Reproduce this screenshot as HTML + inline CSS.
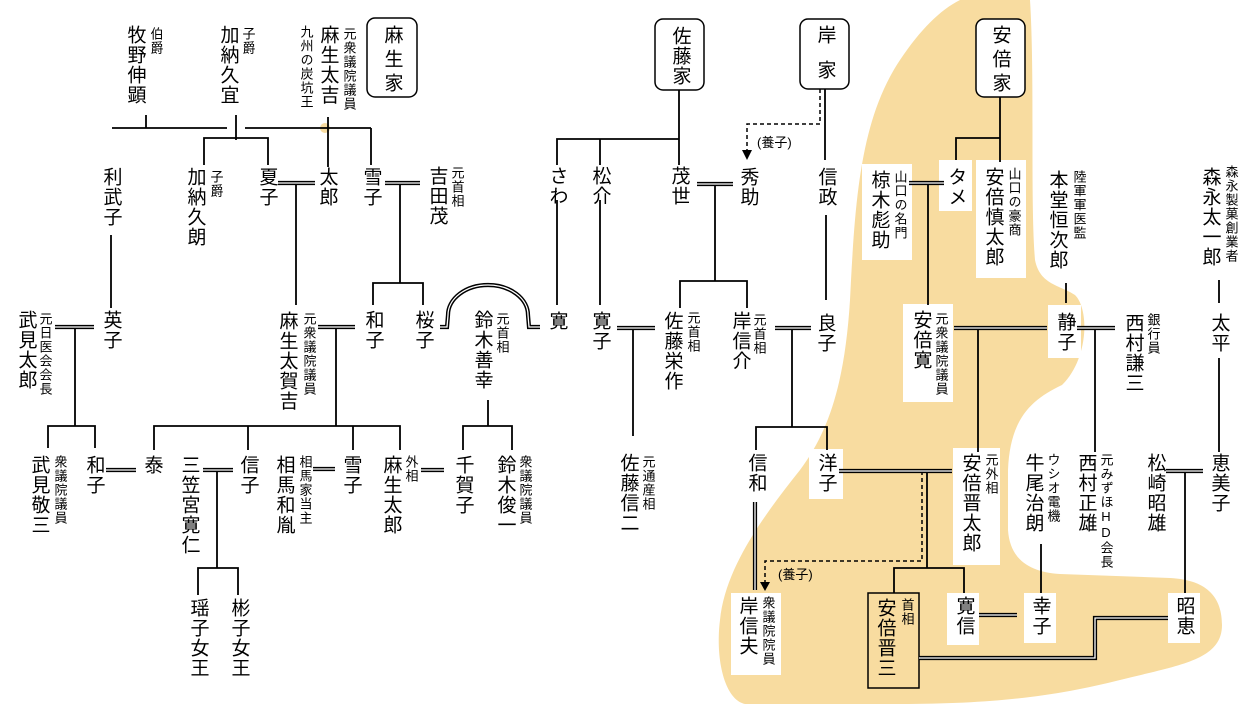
<!DOCTYPE html>
<html><head><meta charset="utf-8">
<style>
body{margin:0;background:#fff;}
#w{position:relative;width:1246px;height:704px;overflow:hidden;background:#fff;font-family:"Liberation Sans","Noto Sans CJK JP",sans-serif;color:#000;}
svg{position:absolute;left:0;top:0;}
.n,.s{position:absolute;writing-mode:vertical-rl;text-orientation:upright;white-space:nowrap;line-height:1;}
.n{font-size:19px;letter-spacing:1px;width:19px;margin-left:-9.5px;}
.s{font-size:13px;letter-spacing:1px;width:13px;margin-left:-6.5px;}
.h{position:absolute;font-size:13px;white-space:nowrap;line-height:1;}
.l{stroke:#000;stroke-width:1.8;fill:none;}
.db{stroke:#000;stroke-width:4.2;fill:none;}
.dw{stroke:#fff;stroke-width:1.3;fill:none;}
.ds{stroke:#000;stroke-width:1.5;fill:none;stroke-dasharray:4 3;}
</style></head><body><div id="w">
<svg width="1246" height="704" viewBox="0 0 1246 704">
<path fill="#f8dca0" d="M960,0 L1030,0 C1035,80 1030,200 1035,260 C1040,285 1060,285 1075,295 C1090,310 1088,360 1062,385 C1030,400 1010,420 1008,470 L1008,530 C1010,560 1030,572 1060,574 L1170,578 C1210,580 1222,600 1222,625 C1222,660 1180,665 1120,680 C1060,695 1000,704 900,704 L745,704 C725,700 715,660 720,620 C725,570 760,520 800,470 C830,430 845,380 850,300 C855,200 860,120 900,60 C920,30 940,10 960,0 Z"/>
<circle cx="325" cy="128" r="5" fill="#f8dca0"/>
<g fill="#fff">
<rect x="862" y="164" width="50" height="96"/>
<rect x="939" y="160" width="33" height="51"/>
<rect x="976" y="160" width="50" height="118"/>
<rect x="903" y="304" width="50" height="98"/>
<rect x="1048" y="305" width="33" height="53"/>
<rect x="809" y="449" width="34" height="50"/>
<rect x="953" y="448" width="47" height="117"/>
<rect x="731" y="593" width="50" height="82"/>
<rect x="947" y="593" width="32" height="52"/>
<rect x="1024" y="593" width="32" height="50"/>
<rect x="1168" y="593" width="32" height="50"/>
</g>
<g fill="#fff" stroke="#000" stroke-width="1.5">
<rect x="367" y="18" width="50" height="79" rx="8"/>
<rect x="655" y="19" width="49" height="71" rx="8"/>
<rect x="800" y="19" width="49" height="70" rx="8"/>
<rect x="976" y="19" width="49" height="78" rx="8"/>
<rect x="868" y="593" width="51" height="95" fill="none"/>
</g>
<g class="l">
<path d="M112,128H227M245,128H371"/>
<path d="M146,115V128M236,115V140M204,165V138H268V165M328,117V167M371,128V165"/>
<path d="M111,235V308"/>
<path d="M296,183V305"/>
<path d="M400,183V283M373,305V283H423V305"/>
<path d="M679,90V139M557,165V139H679V165M600,139V165"/>
<path d="M715,184V281M680,308V281H747V308"/>
<path d="M825,89V160M826,215V300"/>
<path d="M557,200V305M600,200V305"/>
<path d="M1000,97V162M956,160V138H1000"/>
<path d="M928,183V305"/>
<path d="M1066,283V303"/>
<path d="M1219,280V303M1219,358V452"/>
<path d="M75,327V426M48,448V426H95V448"/>
<path d="M336,327V426M154,450V426H400V450M248,426V450M353,426V450"/>
<path d="M217,470V568M198,595V568H238V595"/>
<path d="M488,400V426M463,450V426H512V450"/>
<path d="M633,328V436"/>
<path d="M792,328V427M756,450V427H827V450"/>
<path d="M978,328V452"/>
<path d="M1095,328V452"/>
<path d="M927,471V568M894,593V568H964V593"/>
<path d="M1041,544V593"/>
<path d="M1185,471V593"/>
</g>
<g class="ds">
<path d="M820,89V124H747V152"/>
<path d="M922,471V561H765V582"/>
</g>
<path d="M742,150L752,150L747,160Z"/>
<path d="M760,582L770,582L765,591Z"/>
<g>
<path class="db" d="M278,183H315M385,183H420M697,184H733M909,183H944M55,327H94M318,327H355M617,328H655M775,328H811M954,328H1047M1077,328H1115M106,470H136M203,470H233M313,469H335M421,470H444M839,471H952M1166,471H1203M979,615H1017M755,502V590M919,658H1095V618H1168M440,327H447L448,315A40,30 0 0 1 528,315L529,327H540"/>
<path class="dw" d="M278,183H315M385,183H420M697,184H733M909,183H944M55,327H94M318,327H355M617,328H655M775,328H811M954,328H1047M1077,328H1115M106,470H136M203,470H233M313,469H335M421,470H444M839,471H952M1166,471H1203M979,615H1017M755,502V590M919,658H1095V618H1168M440,327H447L448,315A40,30 0 0 1 528,315L529,327H540"/>
</g>
</svg>

<div class="n" style="left:135px;top:25px">牧野伸顕</div><div class="s" style="left:156px;top:27px">伯爵</div>
<div class="n" style="left:228px;top:25px">加納久宜</div><div class="s" style="left:248px;top:27px">子爵</div>
<div class="n" style="left:328px;top:25px">麻生太吉</div><div class="s" style="left:349px;top:27px">元衆議院議員</div><div class="s" style="left:306px;top:25px">九州の炭坑王</div>
<div class="n" style="left:392px;top:25px;letter-spacing:5px">麻生家</div>
<div class="n" style="left:680px;top:26px">佐藤家</div>
<div class="n" style="left:825px;top:25px">岸</div><div class="n" style="left:825px;top:60px">家</div>
<div class="n" style="left:1000px;top:25px;letter-spacing:5px">安倍家</div>

<div class="n" style="left:111px;top:167px">利武子</div>
<div class="n" style="left:195px;top:167px">加納久朗</div><div class="s" style="left:216px;top:170px">子爵</div>
<div class="n" style="left:267px;top:167px">夏子</div>
<div class="n" style="left:327px;top:167px">太郎</div>
<div class="n" style="left:371px;top:167px">雪子</div>
<div class="n" style="left:437px;top:166px">吉田茂</div><div class="s" style="left:457px;top:166px">元首相</div>
<div class="n" style="left:557px;top:166px">さわ</div>
<div class="n" style="left:600px;top:166px">松介</div>
<div class="n" style="left:679px;top:166px">茂世</div>
<div class="n" style="left:748px;top:167px">秀助</div>
<div class="h" style="left:757px;top:136px">(養子)</div>
<div class="n" style="left:826px;top:167px">信政</div>
<div class="n" style="left:879px;top:170px">椋木彪助</div><div class="s" style="left:900px;top:170px">山口の名門</div>
<div class="n" style="left:956px;top:167px">タメ</div>
<div class="n" style="left:993px;top:167px">安倍慎太郎</div><div class="s" style="left:1014px;top:167px">山口の豪商</div>
<div class="n" style="left:1057px;top:170px">本堂恒次郎</div><div class="s" style="left:1079px;top:170px">陸軍軍医監</div>
<div class="n" style="left:1210px;top:167px">森永太一郎</div><div class="s" style="left:1231px;top:165px">森永製菓創業者</div>

<div class="n" style="left:26px;top:310px">武見太郎</div><div class="s" style="left:45px;top:312px">元日医会会長</div>
<div class="n" style="left:111px;top:310px">英子</div>
<div class="n" style="left:287px;top:311px">麻生太賀吉</div><div class="s" style="left:309px;top:312px">元衆議院議員</div>
<div class="n" style="left:373px;top:310px">和子</div>
<div class="n" style="left:423px;top:310px">桜子</div>
<div class="n" style="left:482px;top:310px">鈴木善幸</div><div class="s" style="left:502px;top:312px">元首相</div>
<div class="n" style="left:557px;top:311px">寛</div>
<div class="n" style="left:600px;top:311px">寛子</div>
<div class="n" style="left:672px;top:311px">佐藤栄作</div><div class="s" style="left:693px;top:311px">元首相</div>
<div class="n" style="left:740px;top:311px">岸信介</div><div class="s" style="left:759px;top:313px">元首相</div>
<div class="n" style="left:825px;top:313px">良子</div>
<div class="n" style="left:921px;top:310px">安倍寛</div><div class="s" style="left:941px;top:312px">元衆議院議員</div>
<div class="n" style="left:1065px;top:312px">静子</div>
<div class="n" style="left:1133px;top:313px">西村謙三</div><div class="s" style="left:1153px;top:313px">銀行員</div>
<div class="n" style="left:1219px;top:313px">太平</div>

<div class="n" style="left:39px;top:455px">武見敬三</div><div class="s" style="left:60px;top:455px">衆議院議員</div>
<div class="n" style="left:94px;top:455px">和子</div>
<div class="n" style="left:152px;top:455px">泰</div>
<div class="n" style="left:189px;top:455px">三笠宮寛仁</div>
<div class="n" style="left:248px;top:455px">信子</div>
<div class="n" style="left:284px;top:455px">相馬和胤</div><div class="s" style="left:305px;top:455px">相馬家当主</div>
<div class="n" style="left:351px;top:455px">雪子</div>
<div class="n" style="left:391px;top:455px">麻生太郎</div><div class="s" style="left:411px;top:455px">外相</div>
<div class="n" style="left:463px;top:455px">千賀子</div>
<div class="n" style="left:505px;top:455px">鈴木俊一</div><div class="s" style="left:525px;top:455px">衆議院議員</div>
<div class="n" style="left:628px;top:453px">佐藤信二</div><div class="s" style="left:648px;top:455px">元通産相</div>
<div class="n" style="left:756px;top:453px">信和</div>
<div class="n" style="left:826px;top:453px">洋子</div>
<div class="n" style="left:970px;top:453px">安倍晋太郎</div><div class="s" style="left:991px;top:453px">元外相</div>
<div class="n" style="left:1033px;top:453px">牛尾治朗</div><div class="s" style="left:1053px;top:453px">ウシオ電機</div>
<div class="n" style="left:1086px;top:453px">西村正雄</div><div class="s" style="left:1106px;top:453px">元みずほHD会長</div>
<div class="n" style="left:1155px;top:453px">松崎昭雄</div>
<div class="n" style="left:1219px;top:453px">恵美子</div>

<div class="n" style="left:198px;top:598px">瑶子女王</div>
<div class="n" style="left:239px;top:598px">彬子女王</div>
<div class="h" style="left:778px;top:568px">(養子)</div>
<div class="n" style="left:747px;top:596px">岸信夫</div><div class="s" style="left:768px;top:596px">衆議院院員</div>
<div class="n" style="left:885px;top:598px">安倍晋三</div><div class="s" style="left:907px;top:598px">首相</div>
<div class="n" style="left:964px;top:596px">寛信</div>
<div class="n" style="left:1040px;top:596px">幸子</div>
<div class="n" style="left:1184px;top:596px">昭恵</div>
</div></body></html>
